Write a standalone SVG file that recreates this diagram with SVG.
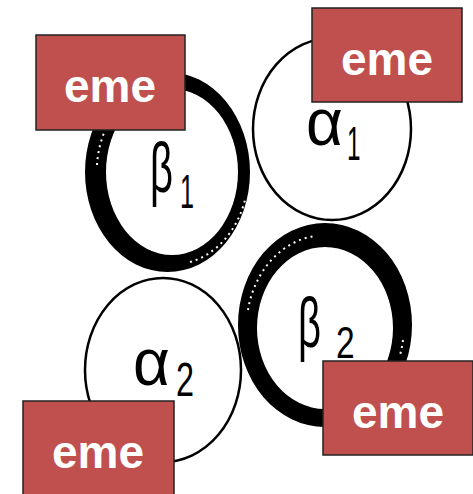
<svg xmlns="http://www.w3.org/2000/svg" width="473" height="494" viewBox="0 0 473 494">
<style>
.alpha{fill:none;stroke:#000;stroke-width:2.5}
.ring{fill:#000;fill-rule:evenodd}
.dots{fill:none;stroke:#fff;stroke-width:2;stroke-dasharray:2 4}
.lbl{font-family:"Liberation Sans",Arial,sans-serif;fill:#000}
.box{fill:#c0504d;stroke:#222;stroke-width:1.5}
.eme{font-family:"Liberation Sans",Arial,sans-serif;font-weight:bold;font-size:46px;fill:#fff;text-anchor:middle}
</style>
<rect width="473" height="494" fill="#fff"/>
<g id="alpha1">
<ellipse class="alpha" cx="332" cy="129" rx="79" ry="91"/>
<text class="lbl" font-size="44" transform="translate(306,145) scale(1.45,1.5)">α</text>
<text class="lbl" font-size="27" transform="translate(347,160) scale(0.9,1.8)">1</text>
</g>
<g id="alpha2">
<ellipse class="alpha" cx="163" cy="370" rx="78" ry="92"/>
<text class="lbl" font-size="44" transform="translate(133,385) scale(1.45,1.5)">α</text>
<text class="lbl" font-size="27" transform="translate(176,396) scale(1.2,1.8)">2</text>
</g>
<g id="beta1">
<path class="ring" d="M85,172 a82.5,100 0 1,0 165,0 a82.5,100 0 1,0 -165,0 Z M106,172 a66,83 0 1,0 132,0 a66,83 0 1,0 -132,0 Z"/>
<path class="dots" d="M97,165 A75,92 0 0,1 115,112"/>
<path class="dots" d="M190,262 A75,92 0 0,0 245,200"/>
<text class="lbl" font-size="40" transform="translate(150,192) scale(1,1.75)">β</text>
<text class="lbl" font-size="28" transform="translate(180,208) scale(0.9,1.75)">1</text>
</g>
<g id="beta2">
<path class="ring" d="M238,325 a87,102 0 1,0 174,0 a87,102 0 1,0 -174,0 Z M257,328 a68,81 0 1,0 136,0 a68,81 0 1,0 -136,0 Z"/>
<path class="dots" d="M248,310 A78,92 0 0,1 315,236"/>
<path class="dots" d="M403,340 A78,92 0 0,1 400,355"/>
<text class="lbl" font-size="40" transform="translate(298,347) scale(1,1.75)">β</text>
<text class="lbl" font-size="28" transform="translate(336,358) scale(1.2,1.6)">2</text>
</g>
<g id="box1">
<rect class="box" x="36" y="35" width="149" height="95"/>
<text class="eme" x="110" y="102">eme</text>
</g>
<g id="box2">
<rect class="box" x="312" y="8" width="150" height="94"/>
<text class="eme" x="387" y="75">eme</text>
</g>
<g id="box3">
<rect class="box" x="23" y="401" width="151" height="100"/>
<text class="eme" x="98" y="468">eme</text>
</g>
<g id="box4">
<rect class="box" x="323" y="361" width="150" height="94"/>
<text class="eme" x="398" y="428">eme</text>
</g>
<g id="connectors"></g>
</svg>
